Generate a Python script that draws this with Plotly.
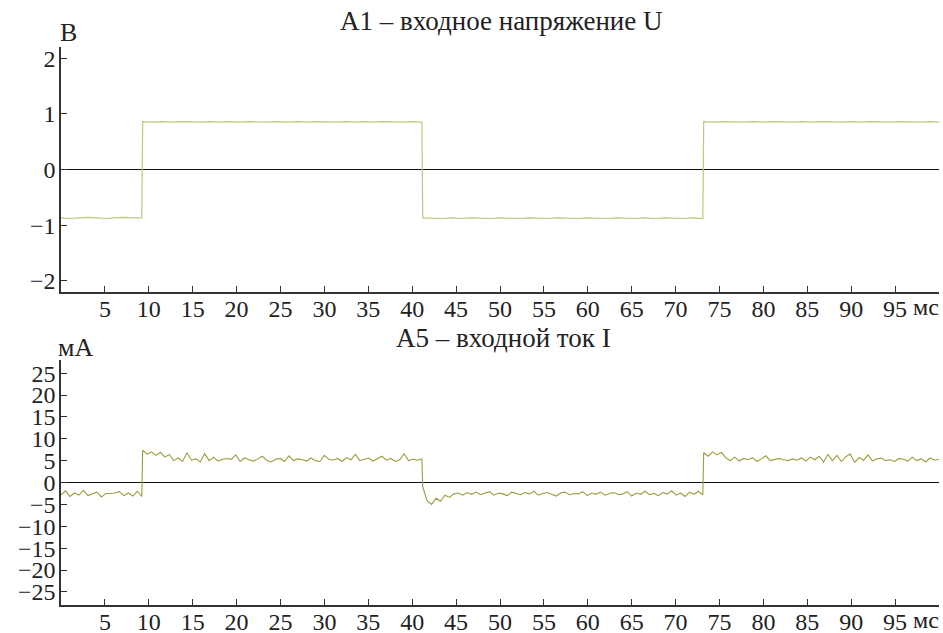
import numpy as np
import plotly.graph_objects as go

# segment boundaries (ms)
seg_bounds = [(0.0, 9.2), (9.3, 41.1), (41.2, 73.1), (73.2, 100.0)]

# input voltage U, V
u_seg1 = [-0.87, -0.88, -0.87, -0.86, -0.87, -0.88, -0.87, -0.86, -0.87, -0.87]
u_seg2 = [0.86, 0.85, 0.86, 0.85, 0.86, 0.85, 0.85, 0.86, 0.85, 0.86, 0.85, 0.86, 0.85, 0.85, 0.86,
          0.85, 0.86, 0.85, 0.86, 0.85, 0.85, 0.86, 0.85, 0.86, 0.85, 0.86, 0.85, 0.85, 0.86, 0.85]
u_seg3 = [-0.87, -0.88, -0.88, -0.87, -0.88, -0.87, -0.88, -0.88, -0.87, -0.88, -0.88, -0.87, -0.88, -0.88,
          -0.87, -0.88, -0.88, -0.87, -0.88, -0.88, -0.87, -0.88, -0.88, -0.87, -0.88, -0.87, -0.88, -0.88, -0.87, -0.88]
u_seg4 = [0.86, 0.85, 0.86, 0.85, 0.85, 0.86, 0.85, 0.86, 0.85, 0.85, 0.86, 0.85, 0.86, 0.85, 0.85,
          0.86, 0.85, 0.86, 0.85, 0.85, 0.86, 0.85, 0.85, 0.86, 0.85]

# input current I, mA
i_seg1 = [-2.8, -1.9, -3.2, -2.4, -2.9, -1.8, -3.0, -2.6, -2.2, -3.3, -2.5, -2.5, -2.4, -2.1, -3.0,
          -2.4, -3.1, -2.0, -3.2]
i_seg2 = [7.4, 6.5, 7.0, 6.2, 6.9, 5.8, 6.4, 5.0, 5.6, 4.8, 6.8, 5.1, 5.4, 4.7, 6.6, 5.0, 5.8, 4.9,
          5.3, 5.5, 5.3, 6.3, 4.8, 5.6, 5.2, 4.9, 5.4, 6.0, 5.1, 4.7, 5.3, 5.5, 4.8, 6.1, 5.0, 5.4,
          5.2, 4.9, 5.6, 5.0, 4.8, 6.2, 5.3, 5.1, 5.5, 4.8, 5.7, 5.2, 6.4, 5.0, 5.3, 5.6, 4.9, 5.4,
          6.0, 5.1, 5.5, 4.8, 5.2, 6.6, 5.0, 5.3, 5.1, 5.4]
i_seg3 = [-1.0, -4.2, -5.0, -3.6, -4.3, -2.9, -3.4, -2.6, -2.4, -2.9, -2.3, -2.7, -2.2, -2.8, -2.5,
          -2.1, -2.9, -2.4, -2.6, -3.0, -2.2, -2.5, -2.8, -2.3, -2.6, -2.0, -2.9, -2.5, -2.3, -2.7,
          -3.1, -2.4, -2.2, -2.8, -2.5, -2.6, -2.1, -3.0, -2.4, -2.7, -2.2, -2.9, -2.5, -2.3, -2.8,
          -2.6, -2.1, -3.1, -2.4, -2.7, -2.0, -2.8, -2.5, -3.0, -2.3, -2.6, -1.9, -2.9, -2.4, -3.2,
          -2.2, -2.7, -2.0, -2.8]
i_seg4 = [6.8, 6.0, 7.0, 6.3, 6.9, 5.6, 5.0, 5.8, 4.9, 5.5, 5.2, 5.7, 4.8, 5.4, 6.1, 5.0, 5.3, 5.5,
          5.2, 5.0, 5.4, 5.1, 5.6, 4.9, 5.8, 5.2, 6.0, 4.7, 6.4, 5.0, 6.2, 4.8, 5.9, 6.5, 4.6, 5.7,
          5.1, 6.3, 4.9, 5.4, 5.6, 5.0, 5.2, 4.8, 5.5, 5.3, 4.9, 5.8, 5.0, 5.4, 4.7, 5.6, 5.1, 5.3]

x_ticks = list(range(5, 100, 5))
u_ticks = [-2, -1, 0, 1, 2]
i_ticks = [-25, -20, -15, -10, -5, 0, 5, 10, 15, 20, 25]


def build(segs):
    t, v = [], []
    for (a, b), vals in zip(seg_bounds, segs):
        t.extend(np.linspace(a, b, len(vals)).tolist())
        v.extend(vals)
    return t, v


tu, u = build([u_seg1, u_seg2, u_seg3, u_seg4])
ti, cur = build([i_seg1, i_seg2, i_seg3, i_seg4])

FONT = "Liberation Serif, Times New Roman, DejaVu Serif, serif"
H = 633.0

fig = go.Figure()
fig.add_trace(go.Scatter(x=tu, y=u, mode="lines", line=dict(color="#c4c47c", width=1.2),
                         xaxis="x", yaxis="y", showlegend=False, hoverinfo="skip"))
fig.add_trace(go.Scatter(x=ti, y=cur, mode="lines", line=dict(color="#9c9c3c", width=1.1),
                         xaxis="x2", yaxis="y2", showlegend=False, hoverinfo="skip"))

axis_common = dict(showline=True, linecolor="#333333", linewidth=1.5, ticks="inside", ticklen=6,
                   tickcolor="#333333", tickwidth=1.3, showgrid=False, automargin=False,
                   tickfont=dict(family=FONT, size=24, color="#222222"))

fig.update_layout(
    width=943, height=633,
    margin=dict(l=61, r=4, t=0, b=0),
    paper_bgcolor="white", plot_bgcolor="white",
    font=dict(family=FONT),
    xaxis=dict(domain=[0, 1], range=[0, 100], tickvals=x_ticks, anchor="y", zeroline=False,
               ticklabelstandoff=-6, **axis_common),
    yaxis=dict(domain=[1 - 292 / H, 1 - 47 / H], range=[-2.2, 2.2], tickvals=u_ticks, anchor="x",
               zeroline=True, zerolinecolor="#111111", zerolinewidth=1.3, ticklabelstandoff=-1,
               **axis_common),
    xaxis2=dict(domain=[0, 1], range=[0, 100], tickvals=x_ticks, anchor="y2", zeroline=False,
                ticklabelstandoff=-6, **axis_common),
    yaxis2=dict(domain=[1 - 605 / H, 1 - 360 / H], range=[-28, 28], tickvals=i_ticks, anchor="x2",
                zeroline=True, zerolinecolor="#111111", zerolinewidth=1.3, ticklabelstandoff=-1,
                **axis_common),
)

annotations = [
    dict(text="A1 – входное напряжение U", x=501, y=21, size=27),
    dict(text="A5 – входной ток I", x=503, y=338, size=27),
    dict(text="В", x=68, y=32, size=26),
    dict(text="мА", x=75, y=347, size=26),
    dict(text="мс", x=926, y=307, size=24),
    dict(text="мс", x=926, y=620, size=24),
]
for a in annotations:
    fig.add_annotation(text=a["text"], xref="paper", yref="paper",
                       x=(a["x"] - 61) / (943 - 65), y=1 - a["y"] / H,
                       xanchor="center", yanchor="middle", showarrow=False,
                       font=dict(family=FONT, size=a["size"], color="#222222"))

fig.write_html("out.html")
